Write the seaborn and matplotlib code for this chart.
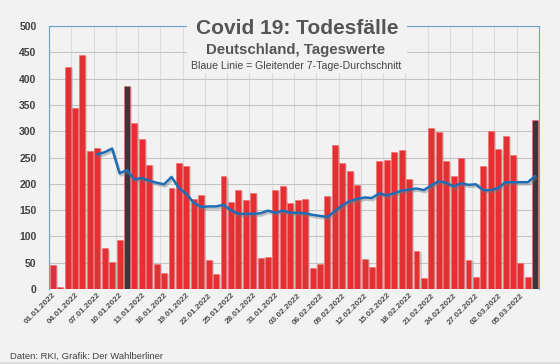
import matplotlib
matplotlib.use("Agg")
import matplotlib.pyplot as plt
import matplotlib.patches as mpatches
import matplotlib.patheffects as pe
import numpy as np
import pandas as pd
import seaborn as sns

# Tageswerte 01.01.2022 - 07.03.2022 (Todesfälle laut RKI)
todesfaelle = [46, 3, 422, 345, 445, 262, 268, 77, 51, 93,
               386, 316, 286, 236, 47, 30, 192, 239, 234, 172,
               178, 55, 28, 214, 166, 188, 170, 182, 59, 61,
               188, 195, 163, 169, 171, 39, 47, 177, 273, 239,
               225, 198, 57, 41, 243, 246, 261, 264, 209, 72,
               21, 306, 299, 243, 215, 249, 55, 23, 234, 300,
               267, 291, 254, 50, 23, 322]

# gleitender 7-Tage-Durchschnitt (ab dem 7. Tag)
durchschnitt = [256, 260, 267, 220, 226, 208, 211, 206, 202, 199,
                213, 192, 181, 164, 156, 157, 157, 160, 150, 143,
                143, 143, 144, 149, 145, 149, 145, 145, 144, 141,
                139, 137, 148, 159, 167, 171, 174, 173, 182, 178,
                182, 187, 189, 191, 188, 197, 205, 202, 195, 201,
                198, 199, 188, 188, 192, 203, 203, 203, 203, 215]

# dunkel markierte Tage (Index)
markiert = [10, 65]

tick_labels = ["01.01.2022", "04.01.2022", "07.01.2022", "10.01.2022",
               "13.01.2022", "16.01.2022", "19.01.2022", "22.01.2022",
               "25.01.2022", "28.01.2022", "31.01.2022", "03.02.2022",
               "06.02.2022", "09.02.2022", "12.02.2022", "15.02.2022",
               "18.02.2022", "21.02.2022", "24.02.2022", "27.02.2022",
               "02.03.2022", "05.03.2022"]

bg = "#f2f2f2"
n = len(todesfaelle)
df = pd.DataFrame({
    "tag": np.arange(n),
    "tote": todesfaelle,
    "typ": ["dunkel" if i in markiert else "normal" for i in range(n)],
})
df_avg = pd.DataFrame({
    "tag": np.arange(n - len(durchschnitt), n),
    "avg": durchschnitt,
})

sns.set_style("white")
plt.rcParams["font.family"] = ["Liberation Sans", "DejaVu Sans"]

fig = plt.figure(figsize=(5.6, 3.64), dpi=100, facecolor=bg)
ax = fig.add_axes([49 / 560, 1 - 289 / 364, 490 / 560, 263 / 364])
ax.set_facecolor(bg)

sns.barplot(data=df, x="tag", y="tote", hue="typ", dodge=False,
            palette={"normal": "#e42f33", "dunkel": "#383838"},
            saturation=1, width=0.8, legend=False, ax=ax, zorder=2,
            edgecolor="#f26b6b", linewidth=0.4)
for p in ax.patches:
    p.set_path_effects([pe.SimplePatchShadow(offset=(1.5, -0.8), shadow_rgbFace="#888888", alpha=0.35),
                        pe.Normal()])

sns.lineplot(data=df_avg, x="tag", y="avg", color="#1f6db5", linewidth=1.8,
             ax=ax, zorder=4,
             path_effects=[pe.SimpleLineShadow(offset=(1, -1.5), shadow_color="#777777", alpha=0.4),
                           pe.Normal()])

ax.set_xlim(-0.5, n - 0.5)
ax.set_ylim(0, 500)
ax.set_yticks(range(0, 501, 50))
ax.set_xticks(range(0, n, 3))
ax.set_xticklabels(tick_labels, rotation=45, ha="right", rotation_mode="anchor",
                   fontsize=5.9, color="#505050", fontweight="bold")
ax.set_xticks(np.arange(-0.5, n - 3, 3), minor=True)
ax.tick_params(axis="y", labelsize=7.5, labelcolor="#404040", length=0, pad=9)
ax.tick_params(axis="x", length=0, pad=2)
ax.tick_params(axis="x", which="minor", length=0)
for lab in ax.get_yticklabels():
    lab.set_fontweight("bold")
ax.set_xlabel("")
ax.set_ylabel("")
ax.yaxis.grid(True, color="#c4c4c4", linewidth=0.8, zorder=0)
ax.xaxis.grid(True, which="minor", color="#dcdcdc", linewidth=0.8, zorder=0)
ax.xaxis.grid(False, which="major")
ax.set_axisbelow(True)

for side in ["left", "top", "right"]:
    ax.spines[side].set_color("#6c9fd2")
    ax.spines[side].set_linewidth(0.8)
ax.spines["bottom"].set_visible(False)

# Titelfeld über dem Rahmen
fig.patches.append(mpatches.Rectangle((187 / 560, 1 - 73 / 364), 220 / 560, 55 / 364,
                                      transform=fig.transFigure, facecolor=bg,
                                      edgecolor="none", zorder=2))
fig.text(297 / 560, 1 - 28 / 364, "Covid 19: Todesfälle", ha="center", va="center",
         fontsize=15, fontweight="bold", color="#555555", zorder=3)
fig.text(296 / 560, 1 - 50 / 364, "Deutschland, Tageswerte", ha="center", va="center",
         fontsize=10.8, fontweight="bold", color="#555555", zorder=3)
fig.text(296 / 560, 1 - 66 / 364, "Blaue Linie = Gleitender 7-Tage-Durchschnitt",
         ha="center", va="center", fontsize=7.6, color="#444444", zorder=3)

fig.text(10 / 560, 1 - 356 / 364, "Daten: RKI, Grafik: Der Wahlberliner",
         ha="left", va="center", fontsize=6.8, color="#404040")
fig.patches.append(mpatches.Rectangle((0, 0), 1, 2.5 / 364, transform=fig.transFigure,
                                      facecolor="#dedede", edgecolor="none", zorder=2))

fig.savefig("out.png", dpi=100, facecolor=bg)
